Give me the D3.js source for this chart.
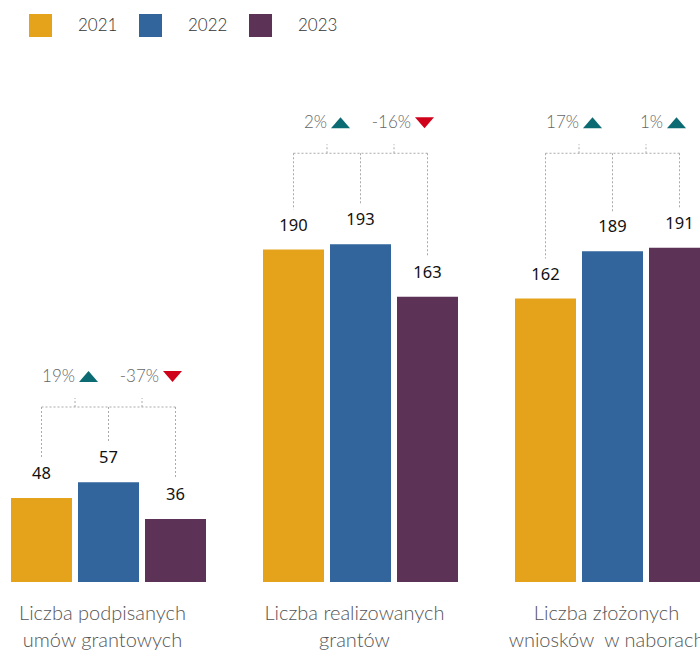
<!DOCTYPE html>
<html>
<head>
<meta charset="utf-8">
<script src="https://cdn.jsdelivr.net/npm/d3@7"></script>
<style>
  body { margin: 0; background: #fff; }
  svg { display: block; font-family: Lato, "Noto Sans", sans-serif; }
</style>
</head>
<body>
<svg id="graph"></svg>
<script>
// chart data
const years = ["2021", "2022", "2023"]
const categories = [
    ["Liczba podpisanych", "umów grantowych"],
    ["Liczba realizowanych", "grantów"],
    ["Liczba złożonych", "wniosków  w naborach"]
]
const values2021 = [48, 190, 162]
const values2022 = [57, 193, 189]
const values2023 = [36, 163, 191]
// height (in data units) where the change brackets sit
const bracketLevels = [100, 245, 245]
const colors = ["#e5a31b", "#32659b", "#5c3256"]

const width = 700, height = 650
const svg = d3.select("#graph").attr("width", width).attr("height", height)

const series = [values2021, values2022, values2023]
const data = categories.map((c, i) => ({
    key: c.join(" "),
    lines: c,
    vals: series.map(s => s[i]),
    level: bracketLevels[i]
}))

// group scale (the last group runs off the right edge like in the original)
const x0 = d3.scaleBand()
    .domain(data.map(d => d.key))
    .range([11, 11 + 252 * 3])
const x1 = d3.scaleBand()
    .domain(years)
    .range([0, 195])
    .paddingInner(6 / 67)
const y = d3.scaleLinear()
    .domain([0, 200])
    .range([582, 232])

// legend
const legend = svg.append("g").selectAll("g")
    .data(years)
    .join("g")
    .attr("transform", (d, i) => `translate(${29 + i * 110},14)`)
legend.append("rect")
    .attr("width", 23).attr("height", 23)
    .attr("fill", (d, i) => colors[i])
legend.append("text")
    .attr("x", 49).attr("y", 17)
    .attr("font-size", 17)
    .attr("font-weight", 300)
    .attr("fill", "#333")
    .text(d => d)

const groups = svg.append("g").selectAll("g")
    .data(data)
    .join("g")
    .attr("transform", d => `translate(${x0(d.key)},0)`)

// bars
groups.selectAll("rect")
    .data(d => d.vals.map((v, i) => ({ year: years[i], v, i })))
    .join("rect")
    .attr("x", d => x1(d.year))
    .attr("y", d => y(d.v))
    .attr("width", x1.bandwidth())
    .attr("height", d => y(0) - y(d.v))
    .attr("fill", d => colors[d.i])

// value labels
groups.selectAll(".val")
    .data(d => d.vals.map((v, i) => ({ year: years[i], v })))
    .join("text")
    .attr("class", "val")
    .attr("x", d => x1(d.year) + x1.bandwidth() / 2)
    .attr("y", d => y(d.v) - 19)
    .attr("text-anchor", "middle")
    .attr("font-family", "'Noto Sans', sans-serif")
    .attr("font-size", 16.5)
    .attr("fill", "#111")
    .text(d => d.v)

const cx = yr => x1(yr) + x1.bandwidth() / 2
const dash = { stroke: "#aaa", "stroke-width": 1, "stroke-dasharray": "2,2", fill: "none" }

groups.each(function (g) {
    const sel = d3.select(this)
    const by = y(g.level)
    const line = (x1p, y1p, x2p, y2p) => {
        const l = sel.append("line")
            .attr("x1", x1p).attr("y1", y1p).attr("x2", x2p).attr("y2", y2p)
        Object.entries(dash).forEach(([k, v]) => l.attr(k, v))
    }
    // horizontal bracket
    line(cx(years[0]), by, cx(years[2]), by)
    // verticals down to each bar
    g.vals.forEach((v, i) => line(cx(years[i]), by, cx(years[i]), y(v) - 40))
    // changes between consecutive years
    const offsets = [0, 17]
    for (let i = 0; i < 2; i++) {
        const mid = (cx(years[i]) + cx(years[i + 1])) / 2
        line(mid, by, mid, by - 9)
        const ch = Math.round((g.vals[i + 1] - g.vals[i]) / g.vals[i] * 100)
        const tx = mid + offsets[i]
        sel.append("text")
            .attr("x", tx).attr("y", by - 25)
            .attr("text-anchor", "end")
            .attr("font-size", 17)
            .attr("font-weight", 300)
            .attr("fill", "#666")
            .text(ch + "%")
        const tl = tx + 4, tw = 19, th = 11, ty = by - 36
        const pts = ch >= 0
            ? [[tl, ty + th], [tl + tw, ty + th], [tl + tw / 2, ty]]
            : [[tl, ty], [tl + tw, ty], [tl + tw / 2, ty + th]]
        sel.append("polygon")
            .attr("points", pts.map(p => p.join(",")).join(" "))
            .attr("fill", ch >= 0 ? "#0c6b72" : "#d0021b")
    }
})

// category labels
groups.append("text")
    .attr("text-anchor", "middle")
    .attr("font-size", 20)
    .attr("font-weight", 300)
    .attr("fill", "#555")
    .style("white-space", "pre")
    .selectAll("tspan")
    .data(d => d.lines)
    .join("tspan")
    .attr("x", 195 / 2 - 6)
    .attr("y", (d, i) => 620 + i * 27)
    .text(d => d)
</script>
</body>
</html>
